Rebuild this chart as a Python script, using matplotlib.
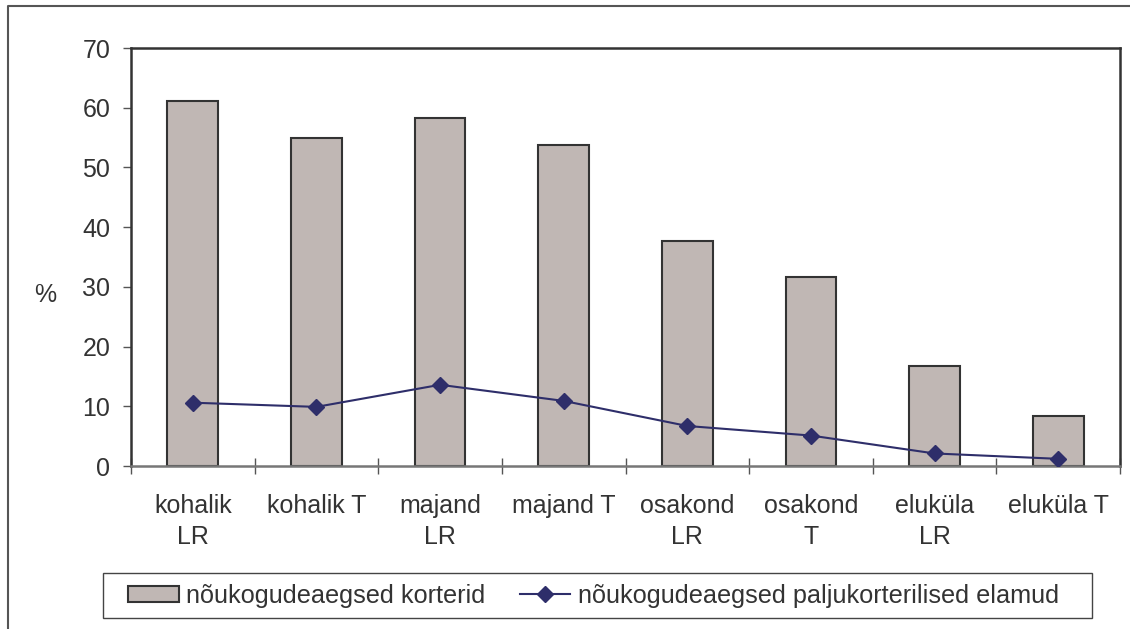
import matplotlib
matplotlib.use("Agg")
import matplotlib.pyplot as plt
from matplotlib.lines import Line2D
from matplotlib.patches import Rectangle
import numpy as np

categories = ["kohalik\nLR", "kohalik T", "majand\nLR", "majand T",
              "osakond\nLR", "osakond\nT", "eluküla\nLR", "eluküla T"]
korterid = [61.2, 55.0, 58.3, 53.7, 37.6, 31.7, 16.7, 8.3]
elamud = [10.6, 9.9, 13.6, 10.9, 6.7, 5.1, 2.1, 1.2]
bar_label = "nõukogudeaegsed korterid"
line_label = "nõukogudeaegsed paljukorterilised elamud"
y_ticks = [0, 10, 20, 30, 40, 50, 60, 70]

plt.rcParams["font.family"] = ["Liberation Sans", "DejaVu Sans"]
text_color = "#333333"
fs = 18

W, H = 1130, 629
fig = plt.figure(figsize=(W / 100, H / 100), dpi=100)
ax = fig.add_axes([131 / W, 1 - 466 / H, (1120 - 131) / W, (466 - 48) / H])

x = np.arange(len(categories))
bars = ax.bar(x, korterid, width=0.41, color="#c0b7b4", edgecolor="#333333",
              linewidth=1.5, label=bar_label, zorder=2)
line, = ax.plot(x, elamud, color="#2e2e6a", linewidth=1.5, marker="D",
                markersize=8, label=line_label, zorder=3)

ax.set_xlim(-0.5, len(categories) - 0.5)
ax.set_ylim(0, 70)
ax.set_yticks(y_ticks)
ax.tick_params(axis="y", direction="out", length=6, width=1,
               color="#555555", labelsize=fs, labelcolor=text_color, pad=9)

# category labels sit between boundary ticks
ax.set_xticks(x)
ax.set_xticklabels(categories)
ax.tick_params(axis="x", which="major", length=0, labelsize=fs,
               labelcolor=text_color, pad=20)
ax.set_xticks(np.arange(len(categories) + 1) - 0.5, minor=True)
ax.tick_params(axis="x", which="minor", direction="inout", length=11.5,
               width=1, color="#555555")
for lbl in ax.get_xticklabels():
    lbl.set_linespacing(1.38)
    lbl.set_verticalalignment("top")

for s in ["left", "right", "top"]:
    ax.spines[s].set_color("#333333")
    ax.spines[s].set_linewidth(1.8)
ax.spines["bottom"].set_color("#777777")
ax.spines["bottom"].set_linewidth(1.8)

fig.text(45 / W, 1 - 295 / H, "%", fontsize=fs, color=text_color,
         ha="center", va="center")

# legend entries placed on a hand-drawn frame
leg = fig.legend(handles=[bars, line], labels=[bar_label, line_label],
                 loc="center left", ncol=2,
                 bbox_to_anchor=(128 / W, 1 - 595.5 / H),
                 frameon=False, fontsize=18.2, handlelength=2.0,
                 handleheight=0.6, handletextpad=0.3, columnspacing=1.35,
                 borderaxespad=0, borderpad=0)
for t in leg.get_texts():
    t.set_color(text_color)
fig.add_artist(Rectangle((103 / W, 1 - 618 / H), (1092 - 103) / W, 45 / H,
                         transform=fig.transFigure, fill=False,
                         edgecolor="#444444", linewidth=1.0))

# outer chart frame
fig.add_artist(Line2D([8 / W, 8 / W, 1.0], [0.0, 1 - 6 / H, 1 - 6 / H],
                      transform=fig.transFigure, color="#555555", linewidth=1.5))

fig.savefig("out.png", dpi=100)
